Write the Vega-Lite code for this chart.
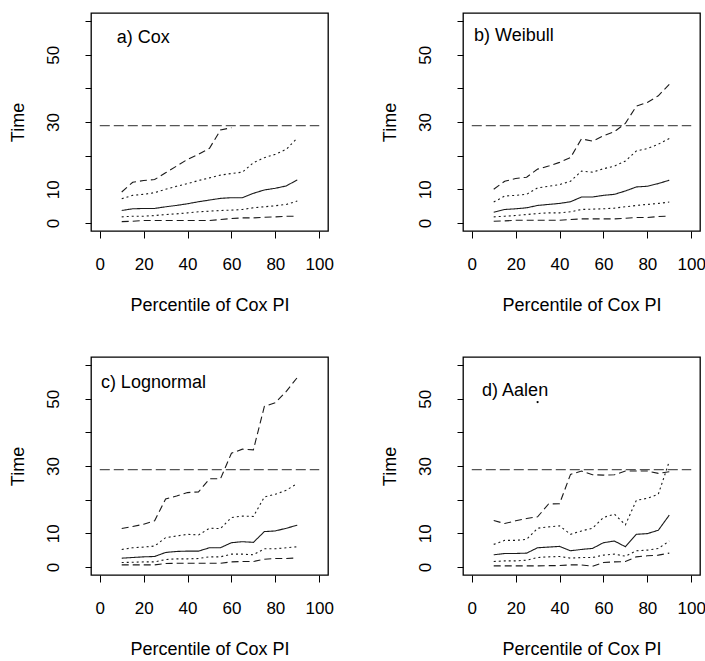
{
  "$schema": "https://vega.github.io/schema/vega-lite/v6.json",
  "padding": {"left": 8, "top": 12, "right": 0, "bottom": 0},
  "background": "white",
  "datasets": {
    "rows": [
      {"kind": "pct", "panel": "a", "x": 10, "lo": 0.4, "q1": 1.8, "med": 3.7, "q3": 7.2, "hi": 9.2},
      {"kind": "pct", "panel": "a", "x": 15, "lo": 0.5, "q1": 2.0, "med": 4.2, "q3": 8.2, "hi": 12.1},
      {"kind": "pct", "panel": "a", "x": 20, "lo": 0.7, "q1": 2.0, "med": 4.3, "q3": 8.5, "hi": 12.6},
      {"kind": "pct", "panel": "a", "x": 25, "lo": 0.7, "q1": 2.2, "med": 4.3, "q3": 9.0, "hi": 12.9},
      {"kind": "pct", "panel": "a", "x": 30, "lo": 0.7, "q1": 2.5, "med": 4.8, "q3": 10.0, "hi": 14.9},
      {"kind": "pct", "panel": "a", "x": 35, "lo": 0.7, "q1": 2.7, "med": 5.2, "q3": 10.9, "hi": 16.9},
      {"kind": "pct", "panel": "a", "x": 40, "lo": 0.7, "q1": 3.0, "med": 5.7, "q3": 11.7, "hi": 18.9},
      {"kind": "pct", "panel": "a", "x": 45, "lo": 0.7, "q1": 3.3, "med": 6.3, "q3": 12.6, "hi": 20.4},
      {"kind": "pct", "panel": "a", "x": 50, "lo": 0.7, "q1": 3.5, "med": 6.8, "q3": 13.4, "hi": 22.2},
      {"kind": "pct", "panel": "a", "x": 55, "lo": 1.0, "q1": 3.7, "med": 7.3, "q3": 14.2, "hi": 27.6},
      {"kind": "pct", "panel": "a", "x": 60, "lo": 1.3, "q1": 3.8, "med": 7.5, "q3": 14.7, "hi": 28.3},
      {"kind": "pct", "panel": "a", "x": 65, "lo": 1.5, "q1": 4.0, "med": 7.5, "q3": 15.1, "hi": null},
      {"kind": "pct", "panel": "a", "x": 70, "lo": 1.5, "q1": 4.5, "med": 8.8, "q3": 17.9, "hi": null},
      {"kind": "pct", "panel": "a", "x": 75, "lo": 1.7, "q1": 4.8, "med": 9.8, "q3": 19.4, "hi": null},
      {"kind": "pct", "panel": "a", "x": 80, "lo": 1.8, "q1": 5.1, "med": 10.3, "q3": 20.4, "hi": null},
      {"kind": "pct", "panel": "a", "x": 85, "lo": 2.0, "q1": 5.5, "med": 11.0, "q3": 21.9, "hi": null},
      {"kind": "pct", "panel": "a", "x": 90, "lo": 2.0, "q1": 6.5, "med": 12.8, "q3": 25.2, "hi": null},

      {"kind": "pct", "panel": "b", "x": 10, "lo": 0.5, "q1": 1.8, "med": 3.2, "q3": 6.2, "hi": 10.0},
      {"kind": "pct", "panel": "b", "x": 15, "lo": 0.6, "q1": 2.0, "med": 4.0, "q3": 8.0, "hi": 12.4},
      {"kind": "pct", "panel": "b", "x": 20, "lo": 0.8, "q1": 2.2, "med": 4.2, "q3": 8.2, "hi": 13.2},
      {"kind": "pct", "panel": "b", "x": 25, "lo": 0.8, "q1": 2.5, "med": 4.5, "q3": 8.5, "hi": 13.6},
      {"kind": "pct", "panel": "b", "x": 30, "lo": 0.8, "q1": 2.8, "med": 5.2, "q3": 10.4, "hi": 16.0},
      {"kind": "pct", "panel": "b", "x": 35, "lo": 0.8, "q1": 3.0, "med": 5.5, "q3": 10.9, "hi": 16.9},
      {"kind": "pct", "panel": "b", "x": 40, "lo": 0.8, "q1": 3.0, "med": 5.8, "q3": 11.4, "hi": 18.0},
      {"kind": "pct", "panel": "b", "x": 45, "lo": 1.0, "q1": 3.3, "med": 6.3, "q3": 12.4, "hi": 19.4},
      {"kind": "pct", "panel": "b", "x": 50, "lo": 1.2, "q1": 4.0, "med": 7.7, "q3": 15.4, "hi": 25.0},
      {"kind": "pct", "panel": "b", "x": 55, "lo": 1.2, "q1": 4.1, "med": 7.7, "q3": 15.1, "hi": 24.3},
      {"kind": "pct", "panel": "b", "x": 60, "lo": 1.2, "q1": 4.2, "med": 8.2, "q3": 16.1, "hi": 25.9},
      {"kind": "pct", "panel": "b", "x": 65, "lo": 1.2, "q1": 4.4, "med": 8.5, "q3": 16.9, "hi": 27.1},
      {"kind": "pct", "panel": "b", "x": 70, "lo": 1.4, "q1": 4.8, "med": 9.5, "q3": 18.4, "hi": 29.6},
      {"kind": "pct", "panel": "b", "x": 75, "lo": 1.6, "q1": 5.2, "med": 10.7, "q3": 21.4, "hi": 34.7},
      {"kind": "pct", "panel": "b", "x": 80, "lo": 1.6, "q1": 5.5, "med": 10.9, "q3": 22.1, "hi": 35.8},
      {"kind": "pct", "panel": "b", "x": 85, "lo": 1.9, "q1": 5.8, "med": 11.7, "q3": 23.4, "hi": 37.8},
      {"kind": "pct", "panel": "b", "x": 90, "lo": 2.0, "q1": 6.2, "med": 12.7, "q3": 25.1, "hi": 41.2},

      {"kind": "pct", "panel": "c", "x": 10, "lo": 0.6, "q1": 1.3, "med": 2.6, "q3": 5.2, "hi": 11.4},
      {"kind": "pct", "panel": "c", "x": 15, "lo": 0.6, "q1": 1.4, "med": 2.8, "q3": 5.7, "hi": 12.0},
      {"kind": "pct", "panel": "c", "x": 20, "lo": 0.6, "q1": 1.5, "med": 3.0, "q3": 5.9, "hi": 12.7},
      {"kind": "pct", "panel": "c", "x": 25, "lo": 0.6, "q1": 1.5, "med": 3.1, "q3": 6.2, "hi": 13.7},
      {"kind": "pct", "panel": "c", "x": 30, "lo": 1.0, "q1": 2.2, "med": 4.3, "q3": 8.7, "hi": 20.2},
      {"kind": "pct", "panel": "c", "x": 35, "lo": 1.1, "q1": 2.4, "med": 4.6, "q3": 9.2, "hi": 21.1},
      {"kind": "pct", "panel": "c", "x": 40, "lo": 1.1, "q1": 2.4, "med": 4.7, "q3": 9.7, "hi": 22.1},
      {"kind": "pct", "panel": "c", "x": 45, "lo": 1.1, "q1": 2.5, "med": 4.7, "q3": 9.5, "hi": 22.3},
      {"kind": "pct", "panel": "c", "x": 50, "lo": 1.1, "q1": 3.0, "med": 5.7, "q3": 11.5, "hi": 26.2},
      {"kind": "pct", "panel": "c", "x": 55, "lo": 1.1, "q1": 3.0, "med": 5.7, "q3": 11.4, "hi": 26.2},
      {"kind": "pct", "panel": "c", "x": 60, "lo": 1.5, "q1": 3.8, "med": 7.2, "q3": 14.7, "hi": 33.8},
      {"kind": "pct", "panel": "c", "x": 65, "lo": 1.6, "q1": 3.8, "med": 7.5, "q3": 15.1, "hi": 35.0},
      {"kind": "pct", "panel": "c", "x": 70, "lo": 1.6, "q1": 3.6, "med": 7.3, "q3": 15.0, "hi": 34.8},
      {"kind": "pct", "panel": "c", "x": 75, "lo": 2.3, "q1": 5.4, "med": 10.5, "q3": 20.8, "hi": 47.7},
      {"kind": "pct", "panel": "c", "x": 80, "lo": 2.5, "q1": 5.4, "med": 10.7, "q3": 21.6, "hi": 48.8},
      {"kind": "pct", "panel": "c", "x": 85, "lo": 2.5, "q1": 5.7, "med": 11.5, "q3": 22.8, "hi": 52.2},
      {"kind": "pct", "panel": "c", "x": 90, "lo": 2.7, "q1": 6.0, "med": 12.4, "q3": 24.8, "hi": 56.3},

      {"kind": "pct", "panel": "d", "x": 10, "lo": 0.3, "q1": 1.6, "med": 3.6, "q3": 6.7, "hi": 13.8},
      {"kind": "pct", "panel": "d", "x": 15, "lo": 0.3, "q1": 1.8, "med": 4.0, "q3": 7.9, "hi": 12.9},
      {"kind": "pct", "panel": "d", "x": 20, "lo": 0.3, "q1": 1.8, "med": 4.0, "q3": 7.9, "hi": 13.7},
      {"kind": "pct", "panel": "d", "x": 25, "lo": 0.3, "q1": 2.0, "med": 4.1, "q3": 8.2, "hi": 14.4},
      {"kind": "pct", "panel": "d", "x": 30, "lo": 0.3, "q1": 2.8, "med": 5.7, "q3": 11.5, "hi": 14.9},
      {"kind": "pct", "panel": "d", "x": 35, "lo": 0.4, "q1": 3.0, "med": 5.9, "q3": 11.9, "hi": 18.7},
      {"kind": "pct", "panel": "d", "x": 40, "lo": 0.4, "q1": 3.1, "med": 6.1, "q3": 12.2, "hi": 18.8},
      {"kind": "pct", "panel": "d", "x": 45, "lo": 0.6, "q1": 2.6, "med": 4.8, "q3": 9.7, "hi": 27.5},
      {"kind": "pct", "panel": "d", "x": 50, "lo": 0.6, "q1": 2.8, "med": 5.2, "q3": 10.7, "hi": 28.5},
      {"kind": "pct", "panel": "d", "x": 55, "lo": 0.2, "q1": 2.8, "med": 5.5, "q3": 11.5, "hi": 27.4},
      {"kind": "pct", "panel": "d", "x": 60, "lo": 1.3, "q1": 3.5, "med": 7.2, "q3": 14.7, "hi": 27.3},
      {"kind": "pct", "panel": "d", "x": 65, "lo": 1.5, "q1": 3.8, "med": 7.7, "q3": 15.7, "hi": 27.4},
      {"kind": "pct", "panel": "d", "x": 70, "lo": 1.6, "q1": 3.2, "med": 6.0, "q3": 12.5, "hi": 28.5},
      {"kind": "pct", "panel": "d", "x": 75, "lo": 3.0, "q1": 4.8, "med": 9.7, "q3": 19.8, "hi": 28.5},
      {"kind": "pct", "panel": "d", "x": 80, "lo": 3.3, "q1": 5.0, "med": 9.9, "q3": 20.4, "hi": 28.5},
      {"kind": "pct", "panel": "d", "x": 85, "lo": 3.5, "q1": 5.5, "med": 10.9, "q3": 21.6, "hi": 27.8},
      {"kind": "pct", "panel": "d", "x": 90, "lo": 4.1, "q1": 7.7, "med": 15.4, "q3": 31.4, "hi": 28.3},

      {"kind": "ref", "panel": "a", "x": 0, "x2": 100, "y": 28.9},
      {"kind": "ref", "panel": "b", "x": 0, "x2": 100, "y": 28.9},
      {"kind": "ref", "panel": "c", "x": 0, "x2": 100, "y": 28.9},
      {"kind": "ref", "panel": "d", "x": 0, "x2": 100, "y": 28.9},

      {"kind": "label", "panel": "a", "x": 7.7, "y": 55, "text": "a) Cox"},
      {"kind": "label", "panel": "b", "x": 1, "y": 55.7, "text": "b) Weibull"},
      {"kind": "label", "panel": "c", "x": 0.5, "y": 54.8, "text": "c) Lognormal"},
      {"kind": "label", "panel": "d", "x": 4.7, "y": 52.3, "text": "d) Aalen"},

      {"kind": "dot", "panel": "d", "x": 30, "y": 49}
    ]
  },
  "data": {"name": "rows"},
  "columns": 2,
  "spacing": {"row": 41, "column": 45},
  "concat": [
    {
      "width": 237, "height": 218,
      "transform": [{"filter": "datum.panel === 'a'"}],
      "encoding": {
        "x": {"field": "x", "type": "quantitative", "title": "Percentile of Cox PI", "scale": {"domain": [-4, 104], "nice": false, "zero": false}},
        "y": {"field": "y", "type": "quantitative", "title": "Time", "scale": {"domain": [-2.4, 62.4], "nice": false, "zero": false}}
      },
      "layer": [
        {"transform": [{"filter": "datum.kind === 'ref'"}], "mark": {"type": "rule", "stroke": "#555", "strokeWidth": 1.2, "strokeDash": [10, 4]}, "encoding": {"x2": {"field": "x2"}}},
        {"transform": [{"filter": "datum.kind === 'pct'"}, {"fold": ["lo", "q1", "med", "q3", "hi"], "as": ["series", "y"]}],
         "mark": {"type": "line", "stroke": "#1a1a1a", "strokeWidth": 1.1},
         "encoding": {"strokeDash": {"field": "series", "type": "nominal", "legend": null, "scale": {"domain": ["lo", "q1", "med", "q3", "hi"], "range": [[7, 4], [2, 3], [1, 0], [2, 3], [7, 4]]}}}},
        {"transform": [{"filter": "datum.kind === 'label'"}], "mark": {"type": "text", "align": "left", "baseline": "middle", "fontSize": 18, "font": "Liberation Sans", "color": "#000"}, "encoding": {"text": {"field": "text"}}}
      ]
    },
    {
      "width": 237, "height": 218,
      "transform": [{"filter": "datum.panel === 'b'"}],
      "encoding": {
        "x": {"field": "x", "type": "quantitative", "title": "Percentile of Cox PI", "scale": {"domain": [-4, 104], "nice": false, "zero": false}},
        "y": {"field": "y", "type": "quantitative", "title": "Time", "scale": {"domain": [-2.4, 62.4], "nice": false, "zero": false}}
      },
      "layer": [
        {"transform": [{"filter": "datum.kind === 'ref'"}], "mark": {"type": "rule", "stroke": "#555", "strokeWidth": 1.2, "strokeDash": [10, 4]}, "encoding": {"x2": {"field": "x2"}}},
        {"transform": [{"filter": "datum.kind === 'pct'"}, {"fold": ["lo", "q1", "med", "q3", "hi"], "as": ["series", "y"]}],
         "mark": {"type": "line", "stroke": "#1a1a1a", "strokeWidth": 1.1},
         "encoding": {"strokeDash": {"field": "series", "type": "nominal", "legend": null, "scale": {"domain": ["lo", "q1", "med", "q3", "hi"], "range": [[7, 4], [2, 3], [1, 0], [2, 3], [7, 4]]}}}},
        {"transform": [{"filter": "datum.kind === 'label'"}], "mark": {"type": "text", "align": "left", "baseline": "middle", "fontSize": 18, "font": "Liberation Sans", "color": "#000"}, "encoding": {"text": {"field": "text"}}}
      ]
    },
    {
      "width": 237, "height": 218,
      "transform": [{"filter": "datum.panel === 'c'"}],
      "encoding": {
        "x": {"field": "x", "type": "quantitative", "title": "Percentile of Cox PI", "scale": {"domain": [-4, 104], "nice": false, "zero": false}},
        "y": {"field": "y", "type": "quantitative", "title": "Time", "scale": {"domain": [-2.4, 62.4], "nice": false, "zero": false}}
      },
      "layer": [
        {"transform": [{"filter": "datum.kind === 'ref'"}], "mark": {"type": "rule", "stroke": "#555", "strokeWidth": 1.2, "strokeDash": [10, 4]}, "encoding": {"x2": {"field": "x2"}}},
        {"transform": [{"filter": "datum.kind === 'pct'"}, {"fold": ["lo", "q1", "med", "q3", "hi"], "as": ["series", "y"]}],
         "mark": {"type": "line", "stroke": "#1a1a1a", "strokeWidth": 1.1},
         "encoding": {"strokeDash": {"field": "series", "type": "nominal", "legend": null, "scale": {"domain": ["lo", "q1", "med", "q3", "hi"], "range": [[7, 4], [2, 3], [1, 0], [2, 3], [7, 4]]}}}},
        {"transform": [{"filter": "datum.kind === 'label'"}], "mark": {"type": "text", "align": "left", "baseline": "middle", "fontSize": 18, "font": "Liberation Sans", "color": "#000"}, "encoding": {"text": {"field": "text"}}}
      ]
    },
    {
      "width": 237, "height": 218,
      "transform": [{"filter": "datum.panel === 'd'"}],
      "encoding": {
        "x": {"field": "x", "type": "quantitative", "title": "Percentile of Cox PI", "scale": {"domain": [-4, 104], "nice": false, "zero": false}},
        "y": {"field": "y", "type": "quantitative", "title": "Time", "scale": {"domain": [-2.4, 62.4], "nice": false, "zero": false}}
      },
      "layer": [
        {"transform": [{"filter": "datum.kind === 'ref'"}], "mark": {"type": "rule", "stroke": "#555", "strokeWidth": 1.2, "strokeDash": [10, 4]}, "encoding": {"x2": {"field": "x2"}}},
        {"transform": [{"filter": "datum.kind === 'pct'"}, {"fold": ["lo", "q1", "med", "q3", "hi"], "as": ["series", "y"]}],
         "mark": {"type": "line", "stroke": "#1a1a1a", "strokeWidth": 1.1},
         "encoding": {"strokeDash": {"field": "series", "type": "nominal", "legend": null, "scale": {"domain": ["lo", "q1", "med", "q3", "hi"], "range": [[7, 4], [2, 3], [1, 0], [2, 3], [7, 4]]}}}},
        {"transform": [{"filter": "datum.kind === 'label'"}], "mark": {"type": "text", "align": "left", "baseline": "middle", "fontSize": 18, "font": "Liberation Sans", "color": "#000"}, "encoding": {"text": {"field": "text"}}},
        {"transform": [{"filter": "datum.kind === 'dot'"}], "mark": {"type": "point", "filled": true, "size": 5, "color": "#000", "opacity": 1}, "encoding": {}}
      ]
    }
  ],
  "config": {
    "view": {"stroke": "#000", "strokeWidth": 1.3},
    "font": "Liberation Sans",
    "axisX": {
      "values": [0, 20, 40, 60, 80, 100],
      "domain": false, "grid": false,
      "tickSize": 7, "tickColor": "#000", "tickWidth": 1,
      "labelFontSize": 17, "labelColor": "#000", "labelPadding": 18,
      "titleFontSize": 18, "titleFontWeight": "normal", "titleColor": "#000", "titlePadding": 24,
      "labelFlush": false, "labelOverlap": false
    },
    "axisY": {
      "values": [0, 10, 20, 30, 40, 50, 60],
      "labelExpr": "indexof([0, 10, 30, 50], datum.value) >= 0 ? datum.label : ''",
      "domain": false, "grid": false,
      "tickSize": 6, "tickColor": "#000", "tickWidth": 1,
      "labelAngle": -90, "labelAlign": "center", "labelBaseline": "bottom",
      "labelFontSize": 17, "labelColor": "#000", "labelPadding": 23,
      "titleFontSize": 18, "titleFontWeight": "normal", "titleColor": "#000", "titlePadding": 17,
      "labelFlush": false, "labelOverlap": false
    }
  }
}
